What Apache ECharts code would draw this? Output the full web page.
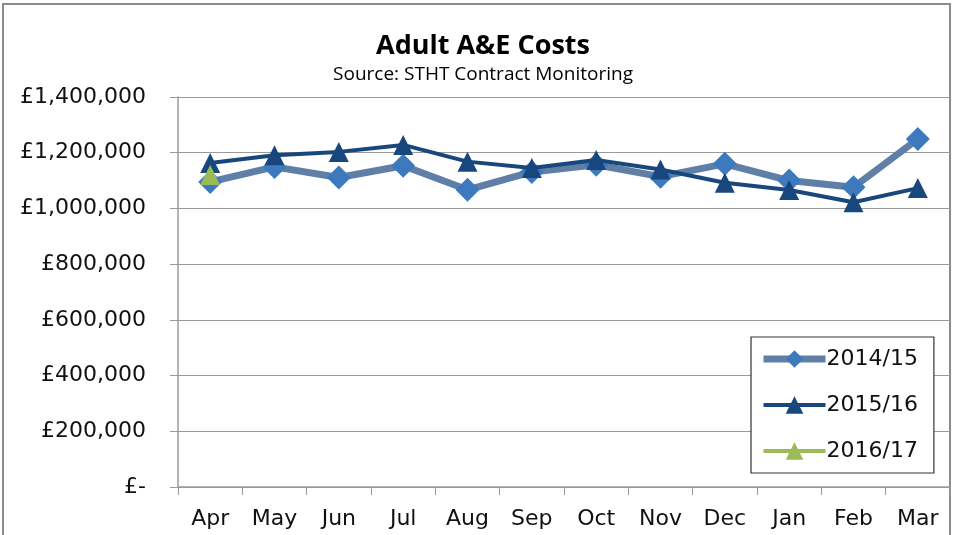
<!DOCTYPE html>
<html><head><meta charset="utf-8">
<script src="https://cdn.jsdelivr.net/npm/echarts@6/dist/echarts.min.js"></script>
<style>html,body{margin:0;padding:0;background:#fff}#c{width:953px;height:535px}</style>
</head><body><div id="c"></div>
<script>
var months = ['Apr','May','Jun','Jul','Aug','Sep','Oct','Nov','Dec','Jan','Feb','Mar'];
var s1415 = [1095000,1149000,1111000,1153000,1067000,1131000,1157000,1114000,1160000,1100000,1076000,1249000];
var s1516 = [1163000,1191000,1203000,1228000,1168000,1145000,1174000,1140000,1092000,1066000,1022000,1073000];
var s1617 = [1120000,null,null,null,null,null,null,null,null,null,null,null];
var yTicks = [0,200000,400000,600000,800000,1000000,1200000,1400000];

function fmt(v){
  if (v === 0) return '£-';
  return '£' + v.toString().replace(/\B(?=(\d{3})+(?!\d))/g, ',');
}
var chart = echarts.init(document.getElementById('c'));
var axisFont = 'DejaVu Sans';
chart.setOption({
  animation: false,
  backgroundColor: '#fff',
  graphic: [{
    type: 'rect', shape: {x: 3, y: 4, width: 947, height: 540},
    style: {fill: 'none', stroke: '#8c8c8c', lineWidth: 2}, z: -1
  }],
  title: {
    text: 'Adult A&E Costs',
    subtext: 'Source: STHT Contract Monitoring',
    left: 478, top: 28, textAlign: 'center', itemGap: 5,
    textStyle: {fontFamily: 'Open Sans', fontWeight: 'bold', fontSize: 27, color: '#000'},
    subtextStyle: {fontFamily: 'Open Sans', fontSize: 19, color: '#000'}
  },
  legend: {
    orient: 'vertical', left: 751, top: 337,
    padding: [11, 16, 11, 9], itemGap: 24,
    borderColor: '#333', borderWidth: 1.2, backgroundColor: '#fff',
    itemWidth: 62, itemHeight: 22,
    textStyle: {fontFamily: axisFont, fontSize: 22, color: '#111', padding: [0,0,0,-4]},
    data: [
      {name: '2014/15', lineStyle: {width: 7}},
      {name: '2015/16', lineStyle: {width: 4}},
      {name: '2016/17', lineStyle: {width: 4}}
    ]
  },
  grid: {left: 178, right: 3, top: 97, bottom: 48},
  xAxis: {
    type: 'category', data: months, boundaryGap: true,
    axisLine: {lineStyle: {color: '#9a9a9a', width: 1.5}},
    axisTick: {show: true, length: 8, lineStyle: {color: '#9a9a9a'}},
    axisLabel: {fontFamily: axisFont, fontSize: 22, color: '#111', margin: 21}
  },
  yAxis: {
    type: 'value', min: 0, max: 1400000, interval: 200000,
    axisLine: {show: true, lineStyle: {color: '#9a9a9a', width: 1.5}},
    axisTick: {show: true, length: 8, lineStyle: {color: '#9a9a9a'}},
    splitLine: {lineStyle: {color: '#9a9a9a', width: 1.2}},
    axisLabel: {fontFamily: axisFont, fontSize: 22, color: '#111', margin: 32,
      formatter: function(v){ return fmt(v); }}
  },
  series: [
    {name: '2014/15', type: 'line', data: s1415, symbol: 'diamond', symbolSize: 24,
     lineStyle: {color: '#5f7fa7', width: 7}, itemStyle: {color: '#3d7abd'}, z: 2},
    {name: '2015/16', type: 'line', data: s1516, symbol: 'triangle', symbolSize: 20,
     lineStyle: {color: '#17477c', width: 4}, itemStyle: {color: '#17477c'}, z: 3},
    {name: '2016/17', type: 'line', data: s1617, symbol: 'triangle', symbolSize: 20,
     lineStyle: {color: '#9bbb59', width: 4}, itemStyle: {color: '#9bbb59'}, z: 4}
  ]
});
</script></body></html>
